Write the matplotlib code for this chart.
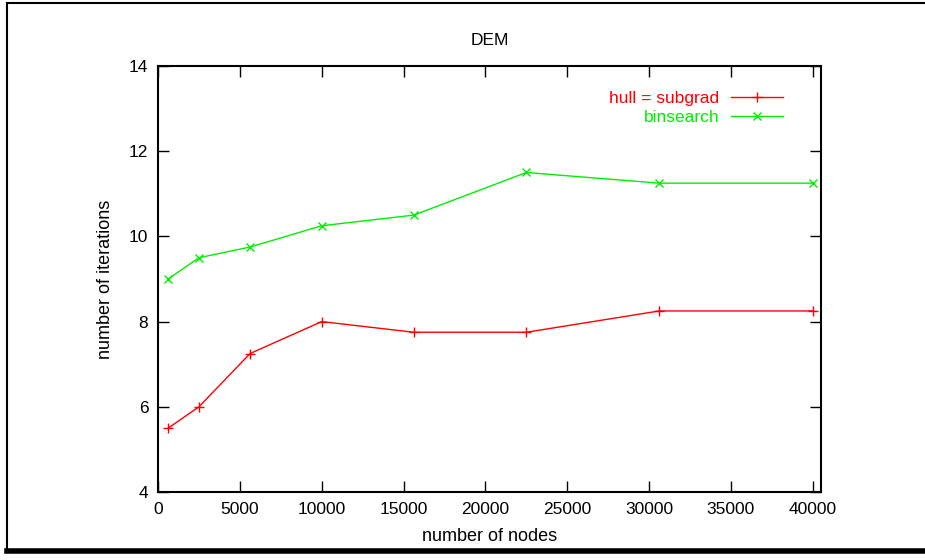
import matplotlib.pyplot as plt
from matplotlib.lines import Line2D

plt.rcParams['font.family'] = ['Liberation Sans', 'DejaVu Sans']

# data
nodes = [625, 2500, 5625, 10000, 15625, 22500, 30625, 40000]
hull_subgrad = [5.5, 6.0, 7.25, 8.0, 7.75, 7.75, 8.25, 8.25]
binsearch = [9.0, 9.5, 9.75, 10.25, 10.5, 11.5, 11.25, 11.25]
xticks = [0, 5000, 10000, 15000, 20000, 25000, 30000, 35000, 40000]
yticks = [4, 6, 8, 10, 12, 14]

fig = plt.figure(figsize=(9.25, 5.6), dpi=100)
W, H = 925, 560
ax = fig.add_axes([158 / W, 1 - 492 / H, (821 - 158) / W, (492 - 66) / H])

red = '#ff0000'
green = '#00ee00'
ax.plot(nodes, hull_subgrad, color=red, lw=1, marker='+', ms=7, mew=1,
        label='hull = subgrad')
ax.plot(nodes, binsearch, color=green, lw=1, marker='x', ms=6, mew=1,
        label='binsearch')

ax.set_xlim(0, 40500)
ax.set_ylim(4, 14)
ax.set_xticks(xticks)
ax.set_yticks(yticks)
ax.tick_params(direction='in', length=8, width=1, top=True, right=True,
               labelsize=12.5, pad=7)
for s in ax.spines.values():
    s.set_linewidth(1.5)

ax.set_title('DEM', fontsize=12.5, pad=15)
ax.set_xlabel('number of nodes', fontsize=13, labelpad=8)
ax.set_ylabel('number of iterations', fontsize=13, labelpad=11)

leg = ax.legend(loc='upper right', bbox_to_anchor=(792 / W, 1 - 82 / H),
                bbox_transform=fig.transFigure, frameon=False,
                markerfirst=False, fontsize=12.5, handlelength=3.0,
                handletextpad=0.7, labelspacing=0.25, borderpad=0)
for txt, c in zip(leg.get_texts(), [red, green]):
    txt.set_color(c)
    txt.set_ha('right')

# outer frame like the gnuplot export
fig.add_artist(Line2D([7 / W, 7 / W], [1 - 551 / H, 1 - 3 / H], color='black', lw=1.5,
                      transform=fig.transFigure))
fig.add_artist(Line2D([7 / W, 1], [1 - 3 / H, 1 - 3 / H], color='black', lw=1.5,
                      transform=fig.transFigure))
fig.add_artist(Line2D([7 / W, 1], [1 - 551 / H, 1 - 551 / H], color='black', lw=4,
                      transform=fig.transFigure))

fig.savefig('out.png', dpi=100)
